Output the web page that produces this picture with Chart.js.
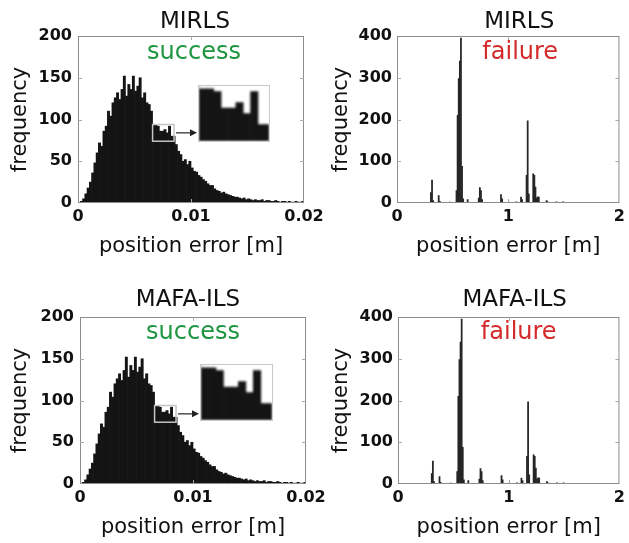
<!DOCTYPE html>
<html>
<head>
<meta charset="utf-8">
<script src="https://cdn.jsdelivr.net/npm/chart.js@4.4.1/dist/chart.umd.min.js"></script>
<style>
  html, body { margin: 0; padding: 0; background: #fff; }
  body { width: 629px; height: 543px; position: relative; overflow: hidden; }
  canvas { position: absolute; }
  .inset { position: absolute; border: 1px solid #c8c8c8; box-sizing: border-box; overflow: hidden; background: #fff; }
  .inset canvas { left: 0; top: 0; filter: blur(1px); }
</style>
</head>
<body>
<canvas id="mirlsSuccess" width="330" height="262" style="left:0;top:0"></canvas>
<canvas id="mirlsFailure" width="315" height="262" style="left:314px;top:0"></canvas>
<canvas id="mafaSuccess" width="330" height="262" style="left:0;top:281px"></canvas>
<canvas id="mafaFailure" width="315" height="262" style="left:314px;top:281px"></canvas>
<div class="inset" style="left:198px;top:85px;width:72px;height:57px"><canvas id="mirlsInset" width="70" height="55"></canvas></div>
<div class="inset" style="left:200px;top:364px;width:73px;height:57px"><canvas id="mafaInset" width="71" height="55"></canvas></div>
<script>
// success histograms: bins of 0.0002 m starting at 0
const successBinWidth = 0.0002;
const mirlsSuccessCounts = [
  0, 2, 5, 11, 18, 25, 36, 48, 60, 72,
  68, 86, 92, 110, 104, 120, 126, 132, 124, 136,
  152, 128, 142, 136, 152, 134, 140, 150, 126, 132,
  120, 118, 110, 93, 93, 92, 86, 86, 88, 84,
  92, 80, 80, 70, 62, 58, 50, 52, 46, 50,
  42, 38, 37, 33, 31, 28, 26, 23, 21, 21,
  17, 15, 14, 12, 13, 11, 10, 9, 8, 7,
  7, 6, 5, 6, 4, 5, 4, 3, 4, 3,
  3, 4, 2, 3, 3, 2, 2, 3, 2, 1,
  2, 2, 1, 2, 1, 1, 2, 1, 1, 2
];
const mafaSuccessCounts = [
  0, 2, 5, 11, 18, 25, 36, 48, 60, 72,
  68, 86, 92, 110, 104, 120, 126, 132, 124, 136,
  152, 128, 142, 136, 152, 134, 140, 150, 126, 132,
  120, 118, 110, 93, 93, 92, 86, 86, 88, 84,
  92, 80, 80, 70, 62, 58, 50, 52, 46, 50,
  42, 38, 37, 33, 31, 28, 26, 23, 21, 21,
  17, 15, 14, 12, 13, 11, 10, 9, 8, 7,
  7, 6, 5, 6, 4, 5, 4, 3, 4, 3,
  3, 4, 2, 3, 3, 2, 2, 3, 2, 1,
  2, 2, 1, 2, 1, 1, 2, 1, 1, 2
];

// failure histograms: bin centres (m) and counts, empty bins left out
const failureCentres = [0.305, 0.315, 0.325, 0.375, 0.385, 0.475, 0.535, 0.545, 0.555, 0.565,
  0.575, 0.585, 0.595, 0.635, 0.735, 0.745, 0.755, 0.765, 0.935, 0.945,
  1.005, 1.075, 1.115, 1.125, 1.165, 1.175, 1.185, 1.225, 1.235, 1.245,
  1.255, 1.265, 1.275, 1.345, 1.355, 1.435, 1.495, 1.585];
const mirlsFailureCounts = [25, 55, 6, 18, 4, 2, 30, 210, 298, 340,
  395, 88, 10, 8, 12, 37, 30, 8, 20, 10,
  2, 3, 14, 8, 66, 197, 22, 70, 66, 38,
  12, 15, 14, 6, 3, 3, 3, 1];
const mafaFailureCounts = [25, 55, 6, 18, 4, 2, 30, 210, 298, 340,
  395, 88, 10, 8, 12, 37, 30, 8, 20, 10,
  2, 3, 14, 8, 66, 197, 22, 70, 66, 38,
  12, 15, 14, 6, 3, 3, 3, 1];

// tick labels
const successXTicks = [0, 0.01, 0.02];
const successYTicks = [0, 50, 100, 150, 200];
const failureXTicks = [0, 1, 2];
const failureYTicks = [0, 100, 200, 300, 400];

// zoomed window shown in the inset
const insetXRange = [0.0066, 0.0085];
const insetYRange = [74, 94];

const FONT = '"DejaVu Sans", sans-serif';
const INK = '#111';

function successPoints(counts) {
  return counts.map((c, i) => ({ x: (i + 0.5) * successBinWidth, y: c }));
}
function failurePoints(counts) {
  return counts.map((c, i) => ({ x: failureCentres[i], y: c }));
}

// box, inward ticks, titles, zoom marker
const panelDecor = {
  id: 'panelDecor',
  afterDraw(chart, args, opts) {
    const { ctx, chartArea: a } = chart;
    const x = chart.scales.x, y = chart.scales.y;
    ctx.save();
    ctx.strokeStyle = '#8c8c8c';
    ctx.lineWidth = 1;
    ctx.strokeRect(a.left + 0.5, a.top + 0.5, a.right - a.left - 1, a.bottom - a.top - 1);

    ctx.strokeStyle = '#a8a8a8';
    ctx.beginPath();
    x.ticks.forEach(t => {
      const px = Math.round(x.getPixelForValue(t.value)) + 0.5;
      if (px < a.left + 2 || px > a.right - 2) return;
      ctx.moveTo(px, a.bottom); ctx.lineTo(px, a.bottom - 4);
      ctx.moveTo(px, a.top); ctx.lineTo(px, a.top + 4);
    });
    y.ticks.forEach(t => {
      const py = Math.round(y.getPixelForValue(t.value)) + 0.5;
      if (py < a.top + 2 || py > a.bottom - 2) return;
      ctx.moveTo(a.left, py); ctx.lineTo(a.left + 4, py);
      ctx.moveTo(a.right, py); ctx.lineTo(a.right - 4, py);
    });
    ctx.stroke();

    const cx = (a.left + a.right) / 2;
    ctx.textAlign = 'center';
    ctx.fillStyle = INK;
    ctx.font = '23px ' + FONT;
    ctx.textBaseline = 'middle';
    ctx.fillText(opts.title, cx + opts.titleDx, a.top + opts.titleDy);
    ctx.fillStyle = opts.noteColor;
    ctx.font = '24px ' + FONT;
    ctx.textBaseline = 'alphabetic';
    ctx.fillText(opts.note, cx + opts.noteDx, a.top + opts.noteDy);

    if (opts.arrowTo) {
      const x0 = x.getPixelForValue(insetXRange[0]);
      const x1 = x.getPixelForValue(insetXRange[1]);
      const y0 = y.getPixelForValue(insetYRange[1]);
      const y1 = y.getPixelForValue(insetYRange[0]);
      ctx.strokeStyle = '#c4c4c4';
      ctx.lineWidth = 1.5;
      ctx.strokeRect(x0, y0, x1 - x0, y1 - y0);
      const ay = (y0 + y1) / 2;
      ctx.strokeStyle = '#222';
      ctx.fillStyle = '#222';
      ctx.lineWidth = 1.2;
      ctx.beginPath();
      ctx.moveTo(x1 + 2, ay); ctx.lineTo(opts.arrowTo - 5, ay);
      ctx.stroke();
      ctx.beginPath();
      ctx.moveTo(opts.arrowTo, ay);
      ctx.lineTo(opts.arrowTo - 7, ay - 3.5);
      ctx.lineTo(opts.arrowTo - 7, ay + 3.5);
      ctx.closePath();
      ctx.fill();
    }
    ctx.restore();
  }
};

function makeHist(id, cfg) {
  const last = a => a[a.length - 1];
  return new Chart(document.getElementById(id), {
    type: 'bar',
    data: {
      datasets: [{
        data: cfg.points,
        backgroundColor: cfg.color,
        borderWidth: 0,
        barPercentage: 1,
        categoryPercentage: 1,
      }],
    },
    options: {
      responsive: false,
      animation: false,
      devicePixelRatio: 1,
      layout: { padding: { top: 36, right: cfg.padRight, left: 0, bottom: 0 } },
      plugins: {
        legend: { display: false },
        tooltip: { enabled: false },
        panelDecor: cfg.decor,
      },
      scales: {
        x: {
          type: 'linear',
          offset: false,
          min: cfg.xTicks[0],
          max: last(cfg.xTicks),
          grid: { display: false, drawTicks: false, offset: false },
          border: { display: false },
          afterBuildTicks: s => { s.ticks = cfg.xTicks.map(v => ({ value: v })); },
          afterFit: s => { s.height = 59; },
          ticks: {
            autoSkip: false, maxRotation: 0, padding: 4, color: INK,
            font: { family: FONT, size: 16, weight: 'bold' },
            callback: v => String(v),
          },
          title: {
            display: true, text: 'position error [m]', color: INK,
            font: { family: FONT, size: 21 },
            padding: { top: 0, bottom: 3 },
          },
        },
        y: {
          min: cfg.yTicks[0],
          max: last(cfg.yTicks),
          grid: { display: false, drawTicks: false },
          border: { display: false },
          afterBuildTicks: s => { s.ticks = cfg.yTicks.map(v => ({ value: v })); },
          afterFit: s => { s.width = cfg.yWidth; },
          ticks: {
            autoSkip: false, padding: cfg.yPad, color: INK,
            font: { family: FONT, size: 16, weight: 'bold' },
            callback: v => String(v),
          },
          title: {
            display: true, text: 'frequency', color: INK,
            font: { family: FONT, size: 21 },
            padding: { top: cfg.yTitlePad, bottom: 0 },
          },
        },
      },
    },
    plugins: [panelDecor],
  });
}

function makeInset(id, counts) {
  return new Chart(document.getElementById(id), {
    type: 'bar',
    data: {
      datasets: [{
        data: successPoints(counts),
        backgroundColor: '#141414',
        borderWidth: 0,
        barPercentage: 1,
        categoryPercentage: 1,
      }],
    },
    options: {
      responsive: false,
      animation: false,
      devicePixelRatio: 1,
      layout: { padding: 0 },
      plugins: { legend: { display: false }, tooltip: { enabled: false } },
      scales: {
        x: { type: 'linear', display: false, offset: false, min: insetXRange[0], max: insetXRange[1] },
        y: { display: false, min: insetYRange[0], max: insetYRange[1] },
      },
    },
  });
}

makeHist('mirlsSuccess', {
  points: successPoints(mirlsSuccessCounts), color: '#141414',
  xTicks: successXTicks, yTicks: successYTicks,
  padRight: 26, yWidth: 78, yPad: 6, yTitlePad: 8,
  decor: { title: 'MIRLS', titleDx: 4, titleDy: -14, note: 'success', noteColor: '#1e9640', noteDx: 3, noteDy: 23, arrowTo: 197 },
});
makeHist('mirlsFailure', {
  points: failurePoints(mirlsFailureCounts), color: '#262626',
  xTicks: failureXTicks, yTicks: failureYTicks,
  padRight: 4, yWidth: 83, yPad: 5, yTitlePad: 15,
  decor: { title: 'MIRLS', titleDx: 11, titleDy: -14, note: 'failure', noteColor: '#d42a2a', noteDx: 12, noteDy: 23 },
});
makeHist('mafaSuccess', {
  points: successPoints(mafaSuccessCounts), color: '#141414',
  xTicks: successXTicks, yTicks: successYTicks,
  padRight: 24, yWidth: 80, yPad: 6, yTitlePad: 8,
  decor: { title: 'MAFA-ILS', titleDx: -5, titleDy: -17, note: 'success', noteColor: '#1e9640', noteDx: 0, noteDy: 22, arrowTo: 199 },
});
makeHist('mafaFailure', {
  points: failurePoints(mafaFailureCounts), color: '#262626',
  xTicks: failureXTicks, yTicks: failureYTicks,
  padRight: 4, yWidth: 84, yPad: 5, yTitlePad: 15,
  decor: { title: 'MAFA-ILS', titleDx: 6, titleDy: -17, note: 'failure', noteColor: '#d42a2a', noteDx: 10, noteDy: 22 },
});
makeInset('mirlsInset', mirlsSuccessCounts);
makeInset('mafaInset', mafaSuccessCounts);
</script>
</body>
</html>
